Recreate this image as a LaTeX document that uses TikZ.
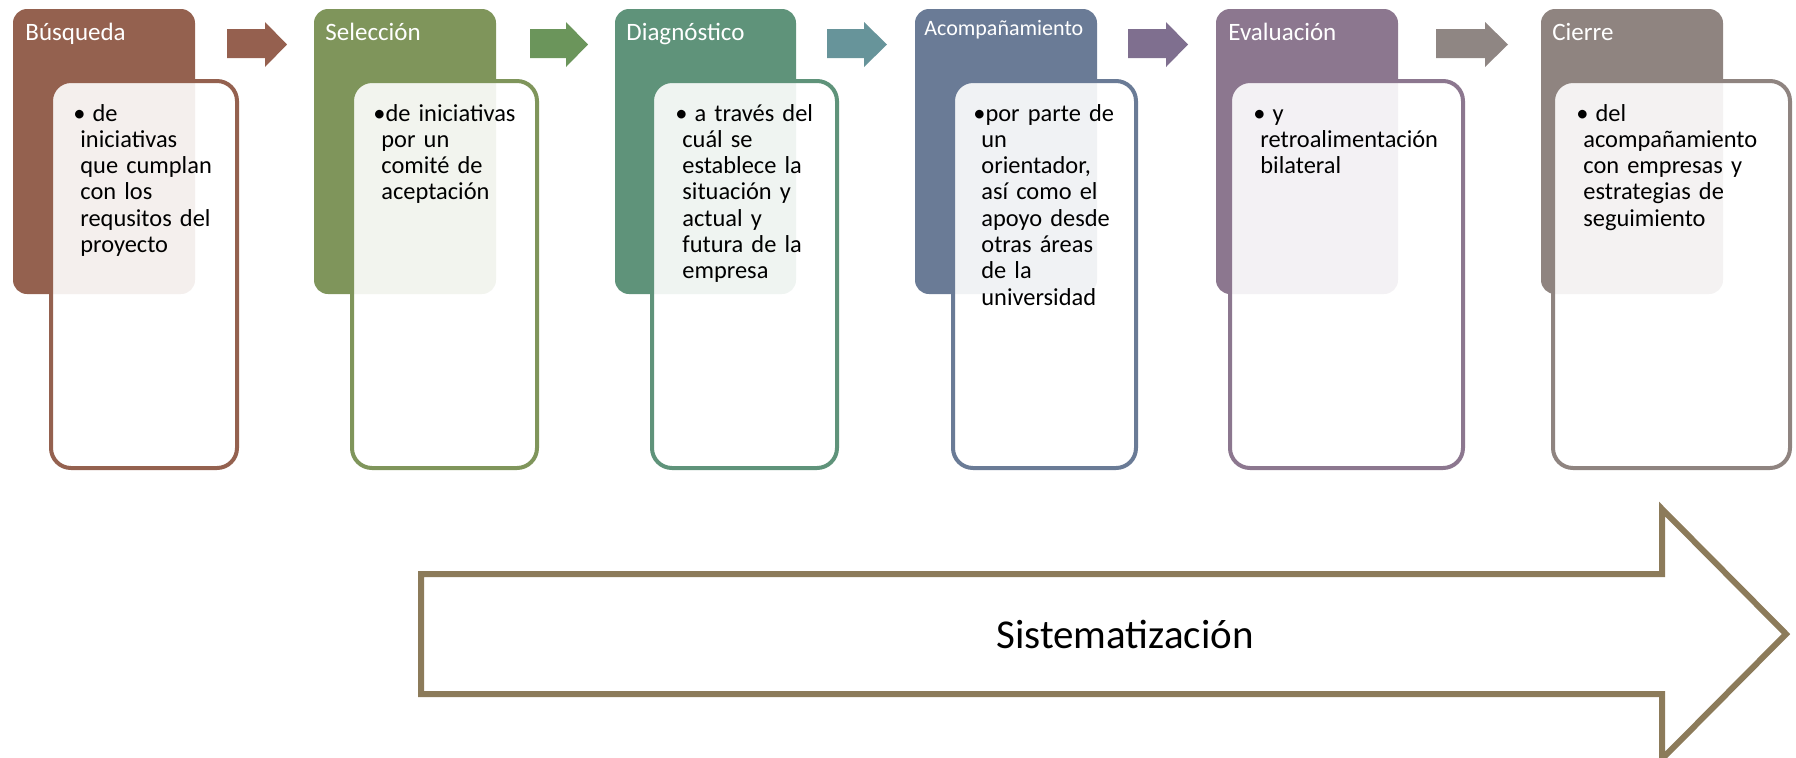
\documentclass[tikz,border=0pt]{standalone}
\usepackage{fontspec}
\setmainfont{Carlito}
\usepackage{xcolor}

\definecolor{busq}{HTML}{94614F}
\definecolor{sele}{HTML}{7F955B}
\definecolor{diag}{HTML}{5F937A}
\definecolor{acom}{HTML}{6A7B96}
\definecolor{eval}{HTML}{8C778F}
\definecolor{cier}{HTML}{8F8480}
\definecolor{flechaA}{HTML}{95604F}
\definecolor{flechaB}{HTML}{6B955B}
\definecolor{flechaC}{HTML}{67949A}
\definecolor{flechaD}{HTML}{7F6F8F}
\definecolor{flechaE}{HTML}{8F8683}
\definecolor{sist}{HTML}{8C7B5A}

\tikzset{
  titulo/.style={anchor=base west, inner sep=0pt, text=white, font=\fontsize{12.5}{15}\selectfont},
  texto/.style={anchor=base west, inner sep=0pt, text width=150pt, align=left, font=\fontsize{12.2}{13.15}\selectfont},
  caja/.style={draw=#1, line width=2pt, rounded corners=10pt, fill=white, fill opacity=0.9}
}

\begin{document}
\begin{tikzpicture}[x=0.5pt, y=-0.5pt]
            \useasboundingbox (0,0) rectangle (1796,757);

            % Colour boxes
            \fill[busq, rounded corners=7pt] (13,9) rectangle (195,294);
            \fill[sele, rounded corners=7pt] (314,9) rectangle (496,294);
            \fill[diag, rounded corners=7pt] (615,9) rectangle (796,294);
            \fill[acom, rounded corners=7pt] (915,9) rectangle (1097,294);
            \fill[eval, rounded corners=7pt] (1216,9) rectangle (1398,294);
            \fill[cier, rounded corners=7pt] (1541,9) rectangle (1723,294);

            % Outlined boxes
            \draw[caja=busq] (51,81) rectangle (237,468);
            \draw[caja=sele] (352,81) rectangle (537,468);
            \draw[caja=diag] (652,81) rectangle (837,468);
            \draw[caja=acom] (953,81) rectangle (1136,468);
            \draw[caja=eval] (1230,81) rectangle (1463,468);
            \draw[caja=cier] (1553,81) rectangle (1790,468);

            % Arrows between the steps
            \fill[flechaA] (227,29) -- (265,29) -- (265,22) -- (287,44.5) -- (265,67) -- (265,58) -- (227,58) -- cycle;
            \fill[flechaB] (530,29) -- (566,29) -- (566,22) -- (588,44.5) -- (566,67) -- (566,58) -- (530,58) -- cycle;
            \fill[flechaC] (827,29) -- (864,29) -- (864,22) -- (887,44.5) -- (864,67) -- (864,58) -- (827,58) -- cycle;
            \fill[flechaD] (1128,29) -- (1166,29) -- (1166,22) -- (1188,44.5) -- (1166,67) -- (1166,58) -- (1128,58) -- cycle;
            \fill[flechaE] (1436,29) -- (1485,29) -- (1485,22) -- (1508,44.5) -- (1485,67) -- (1485,58) -- (1436,58) -- cycle;

            % Titles
            \node[titulo] (busqueda) at (25,40) {Búsqueda};
            \node[titulo] (seleccion) at (325,40) {Selección};
            \node[titulo] (diagnostico) at (626,40) {Diagnóstico};
            \node[titulo, font=\fontsize{11}{13}\selectfont] (acompanamiento) at (924,35) {Acompañamiento};
            \node[titulo] (evaluacion) at (1228,40) {Evaluación};
            \node[titulo] (cierre) at (1552,40) {Cierre};

            % Texts
            \node[texto] (tbusqueda) at (80,121) {\hspace*{-3.5pt}\textbullet\hspace{3.5pt}de\\iniciativas\\que cumplan\\con los\\requsitos del\\proyecto};
            \node[texto] (tseleccion) at (381,121) {\hspace*{-4pt}\textbullet de iniciativas\\por un\\comité de\\aceptación};
            \node[texto] (tdiagnostico) at (682,121) {\hspace*{-3.5pt}\textbullet\hspace{3.5pt}a través del\\cuál se\\establece la\\situación y\\actual y\\futura de la\\empresa};
            \node[texto] (tacompanamiento) at (981,121) {\hspace*{-4pt}\textbullet por parte de\\un\\orientador,\\así como el\\apoyo desde\\otras áreas\\de la\\universidad};
            \node[texto] (tevaluacion) at (1260,121) {\hspace*{-3.5pt}\textbullet\hspace{3.5pt}y\\retroalimentación\\bilateral};
            \node[texto] (tcierre) at (1583,121) {\hspace*{-3.5pt}\textbullet\hspace{3.5pt}del\\acompañamiento\\con empresas y\\estrategias de\\seguimiento};

            % Big arrow
            \draw[sist, line width=3pt, fill=white] (421,574) -- (1662,574) -- (1662,509) -- (1786,634) -- (1662,759) -- (1662,694) -- (421,694) -- cycle;
            \node[font=\fontsize{20.5}{24}\selectfont] (sistematizacion) at (1125,634) {Sistematización};
        \end{tikzpicture}
\end{document}
